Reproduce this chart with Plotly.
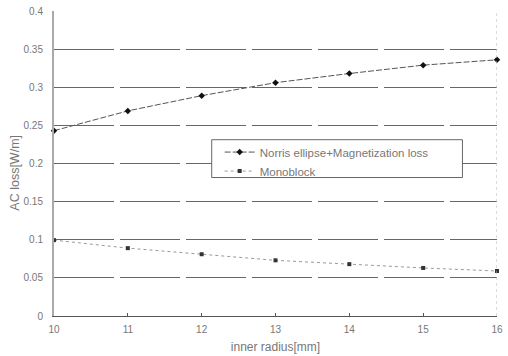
import plotly.graph_objects as go

inner_radius = [10, 11, 12, 13, 14, 15, 16]
norris_loss = [0.243, 0.269, 0.289, 0.306, 0.318, 0.329, 0.336]
monoblock_loss = [0.0995, 0.089, 0.081, 0.073, 0.068, 0.063, 0.059]
y_ticks = [0, 0.05, 0.1, 0.15, 0.2, 0.25, 0.3, 0.35, 0.4]
y_tick_labels = ["0", "0.05", "0.1", "0.15", "0.2", "0.25", "0.3", "0.35", "0.4"]

fig = go.Figure()
fig.add_trace(go.Scatter(
    x=inner_radius, y=norris_loss, mode="lines+markers",
    name="Norris ellipse+Magnetization loss",
    line=dict(color="#555555", width=1, dash="6px,2px"),
    marker=dict(symbol="diamond", size=5, color="#111111"),
    cliponaxis=False,
))
fig.add_trace(go.Scatter(
    x=inner_radius, y=monoblock_loss, mode="lines+markers",
    name="Monoblock",
    line=dict(color="#999999", width=1, dash="dot"),
    marker=dict(symbol="square", size=4, color="#333333"),
    cliponaxis=False,
))

fig.update_layout(
    width=508, height=356,
    margin=dict(l=54, r=5, t=10, b=40),
    paper_bgcolor="white", plot_bgcolor="white",
    font=dict(family="Liberation Sans, Arial, sans-serif", size=10, color="#777777"),
    showlegend=True,
    legend=dict(
        x=0.374, y=0.585, xanchor="left", yanchor="top",
        bgcolor="rgba(0,0,0,0)", borderwidth=0,
        font=dict(size=11.5, color="#777777"),
        tracegroupgap=0, itemwidth=30,
    ),
    xaxis=dict(
        range=[10, 16], tickvals=inner_radius, ticktext=[str(v) for v in inner_radius],
        showgrid=False, zeroline=False,
        showline=True, linecolor="#555555", linewidth=1,
        ticks="inside", ticklen=3, tickcolor="#555555",
        ticklabeloverflow="allow", ticklabelstandoff=4,
        title=dict(text="inner radius[mm]", font=dict(size=12, color="#777777"), standoff=8),
    ),
    yaxis=dict(
        range=[0, 0.4], tickvals=y_ticks, ticktext=y_tick_labels,
        showgrid=True, gridcolor="#666666", gridwidth=1, griddash="60px,6px",
        zeroline=False,
        showline=True, linecolor="#aaaaaa", linewidth=2,
        ticks="", ticklabelstandoff=7,
    ),
)
fig.add_annotation(text="AC loss[W/m]", textangle=-90, xref="paper", yref="paper",
                   x=-0.088, y=0.47, xanchor="center", yanchor="middle", showarrow=False,
                   font=dict(size=12.5, color="#777777"))
fig.add_shape(type="line", xref="x", yref="paper", x0=16, x1=16, y0=0, y1=1,
              line=dict(color="#bbbbbb", width=1, dash="dot"))
fig.add_shape(type="rect", xref="paper", yref="paper",
              x0=0.356, x1=0.922, y0=0.454, y1=0.578, layer="above",
              fillcolor="white", line=dict(color="#666666", width=1))

fig.write_html("out.html", config={"displayModeBar": False},
               post_script="document.body.style.margin='0';")
